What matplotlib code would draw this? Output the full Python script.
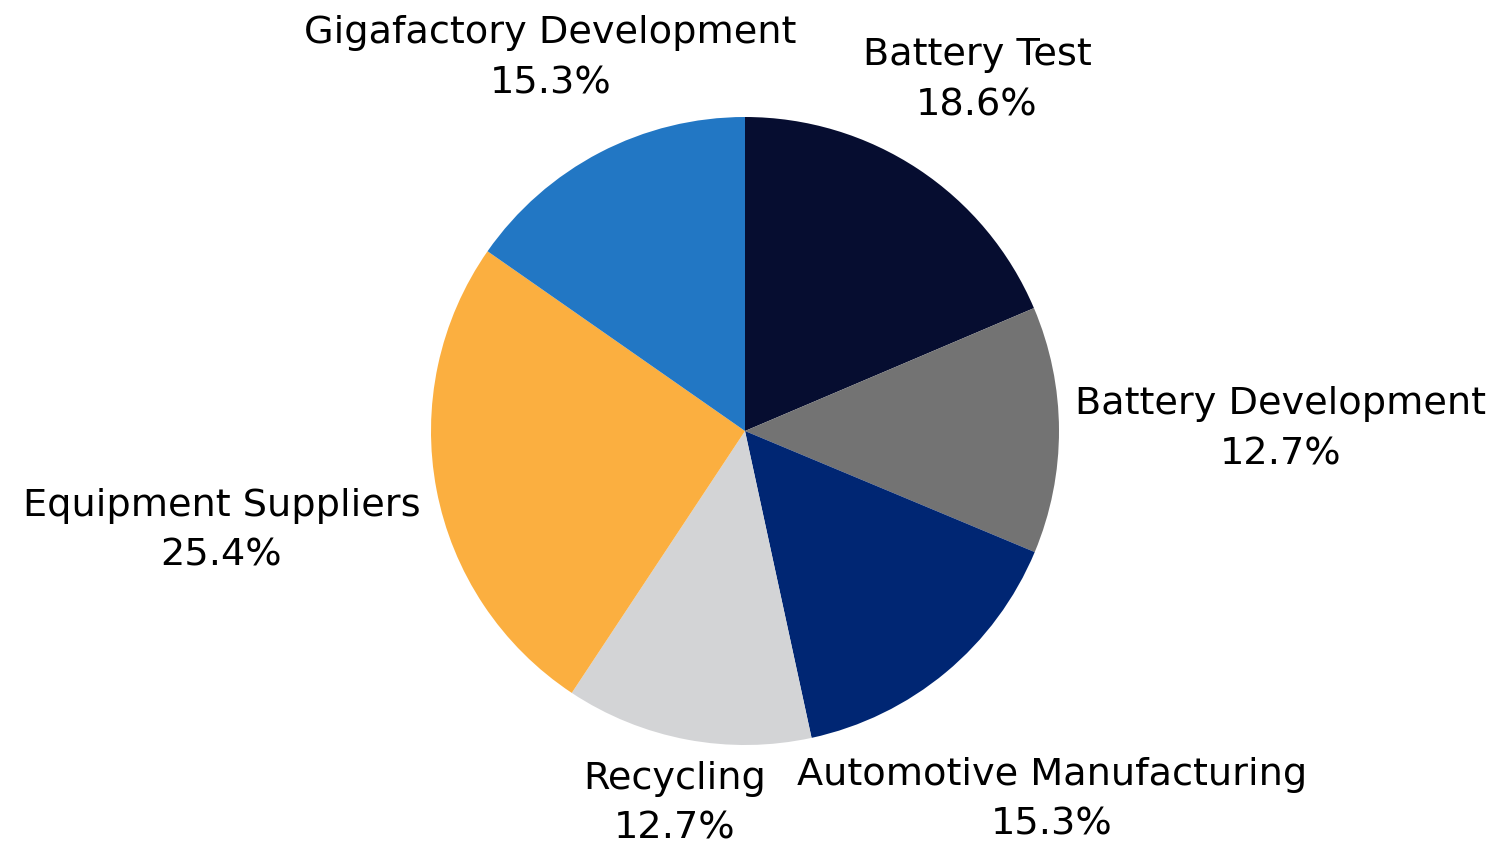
# 파이 차트 - 배터리 분야 비중
import numpy as np
import matplotlib
matplotlib.use("Agg")
import matplotlib.pyplot as plt

# 데이터
labels = ["Battery Test", "Battery Development", "Automotive Manufacturing",
          "Recycling", "Equipment Suppliers", "Gigafactory Development"]
shares = [18.6, 12.7, 15.3, 12.7, 25.4, 15.3]
colors = ["#060d30", "#737373", "#002673", "#d3d4d6", "#fbaf40", "#2277c4"]

plt.rcParams['font.family'] = ['DejaVu Sans']

# 그림 크기: 1500x852 px
fig = plt.figure(figsize=(15, 8.52), dpi=100)
ax = fig.add_axes([0, 0, 1, 1])
ax.axis('off')

wedges, _ = ax.pie(shares, colors=colors, startangle=90, counterclock=False,
                   radius=1.0, center=(0, 0))
ax.set_xlim(-745 / 314, (1500 - 745) / 314)
ax.set_ylim(-(852 - 431) / 314, 431 / 314)
ax.set_aspect('equal')

# 라벨: 조각 방향으로 밀어내서 원과 겹치지 않게
renderer = fig.canvas.get_renderer()
inv = ax.transData.inverted()
gap = 1.05
for w, name, val in zip(wedges, labels, shares):
    ang = np.deg2rad((w.theta1 + w.theta2) / 2)
    dx, dy = np.cos(ang), np.sin(ang)
    t = ax.text(0, 0, f"{name}\n{val:.1f}%", ha='center', va='center',
                fontsize=27.5, color='black', linespacing=1.5)
    bb = t.get_window_extent(renderer)
    (x0, y0), (x1, y1) = inv.transform([[bb.x0, bb.y0], [bb.x1, bb.y1]])
    hw, hh = (x1 - x0) / 2, (y1 - y0) / 2
    lo, hi = 0.0, 4.0
    for _ in range(60):
        d = (lo + hi) / 2
        cx, cy = d * dx, d * dy
        px = np.clip(0, cx - hw, cx + hw)
        py = np.clip(0, cy - hh, cy + hh)
        if np.hypot(px, py) >= gap:
            hi = d
        else:
            lo = d
    t.set_position((hi * dx, hi * dy))

fig.savefig("out.png", dpi=100)
